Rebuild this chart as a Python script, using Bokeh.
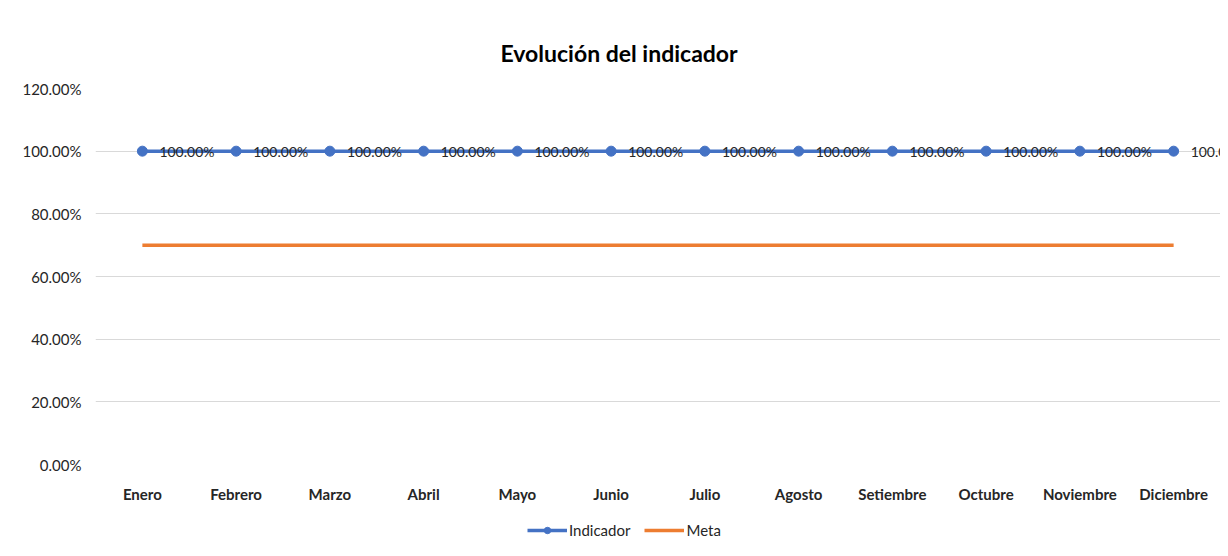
from bokeh.plotting import figure
from bokeh.models import (FixedTicker, NumeralTickFormatter, Legend, LegendItem,
                          ColumnDataSource, LabelSet, Range1d)
from bokeh.layouts import column
from bokeh.core.properties import value
from bokeh.embed import file_html
from bokeh.resources import INLINE

months = ["Enero", "Febrero", "Marzo", "Abril", "Mayo", "Junio", "Julio",
          "Agosto", "Setiembre", "Octubre", "Noviembre", "Diciembre"]
indicador = [1.0, 1.0, 1.0, 1.0, 1.0, 1.0, 1.0, 1.0, 1.0, 1.0, 1.0, 1.0]
meta = [0.7, 0.7, 0.7, 0.7, 0.7, 0.7, 0.7, 0.7, 0.7, 0.7, 0.7, 0.7]
y_ticks = [0, 0.2, 0.4, 0.6, 0.8, 1.0, 1.2]

FONT = "Lato"
BLUE = "#4472C4"
ORANGE = "#ED7D31"
TXT = "#262626"

src = ColumnDataSource(dict(
    x=months, ind=indicador, meta=meta,
    lab=[f"{v*100:.2f}%" for v in indicador],
))

p = figure(width=1220, height=505, x_range=months, y_range=Range1d(0, 1.2),
           output_backend="svg", toolbar_location=None,
           min_border_left=95, min_border_right=0, min_border_top=88,
           min_border_bottom=40)
p.outline_line_color = None
p.background_fill_color = "white"
p.border_fill_color = "white"

p.title.text = "Evolución del indicador"
p.title.align = "left"
p.title.offset = 405
p.title.text_font = FONT
p.title.text_font_size = "23px"
p.title.text_font_style = "bold"
p.title.text_color = "#000000"
p.title.standoff = 44

p.yaxis.ticker = FixedTicker(ticks=y_ticks)
p.yaxis.formatter = NumeralTickFormatter(format="0.00%")
p.yaxis.axis_line_color = None
p.yaxis.major_tick_line_color = None
p.yaxis.minor_tick_line_color = None
p.yaxis.major_label_text_font = FONT
p.yaxis.major_label_text_font_size = "15px"
p.yaxis.major_label_text_color = TXT
p.yaxis.major_label_standoff = 8

p.xaxis.axis_line_color = None
p.xaxis.major_tick_line_color = None
p.xaxis.major_label_text_font = FONT
p.xaxis.major_label_text_font_size = "15px"
p.xaxis.major_label_text_font_style = "bold"
p.xaxis.major_label_text_color = TXT
p.xaxis.major_label_standoff = 14

p.xgrid.grid_line_color = None
p.ygrid.grid_line_color = "#D9D9D9"
p.ygrid.grid_line_width = 1

p.line("x", "meta", source=src, line_color=ORANGE, line_width=3.5)
p.line("x", "ind", source=src, line_color=BLUE, line_width=3.5)
p.scatter("x", "ind", source=src, size=10, fill_color=BLUE, line_color=BLUE)

labels = LabelSet(x="x", y="ind", text="lab", source=src, x_offset=17,
                  y_offset=0, text_baseline="middle", text_font=value(FONT),
                  text_font_size="14px", text_color=TXT)
p.add_layout(labels)

# legend strip below the chart (its renderers lie outside its visible range)
lsrc = ColumnDataSource(dict(i=list(range(len(months))), ind=indicador, meta=meta))
lp = figure(width=1220, height=43, output_backend="svg", toolbar_location=None,
            x_range=Range1d(0, 1), y_range=Range1d(5, 6),
            min_border=0)
lp.axis.visible = False
lp.grid.visible = False
lp.outline_line_color = None
lp.border_fill_color = "white"
l_ind = lp.line("i", "ind", source=lsrc, line_color=BLUE, line_width=3.5)
l_ind_pts = lp.scatter("i", "ind", source=lsrc, size=8, fill_color=BLUE,
                       line_color=BLUE)
l_meta = lp.line("i", "meta", source=lsrc, line_color=ORANGE, line_width=3.5)

legend = Legend(items=[
    LegendItem(label="Indicador", renderers=[l_ind, l_ind_pts]),
    LegendItem(label="Meta", renderers=[l_meta]),
], orientation="horizontal", location=(432, 9))
legend.label_text_font = FONT
legend.label_text_font_size = "15px"
legend.label_text_color = TXT
legend.border_line_color = None
legend.background_fill_alpha = 0
legend.glyph_width = 40
legend.glyph_height = 16
legend.label_height = 16
legend.label_standoff = 2
legend.spacing = 14
legend.padding = 0
legend.margin = 0
lp.add_layout(legend)

open("out.html", "w").write(file_html(column(p, lp, spacing=0), INLINE))
